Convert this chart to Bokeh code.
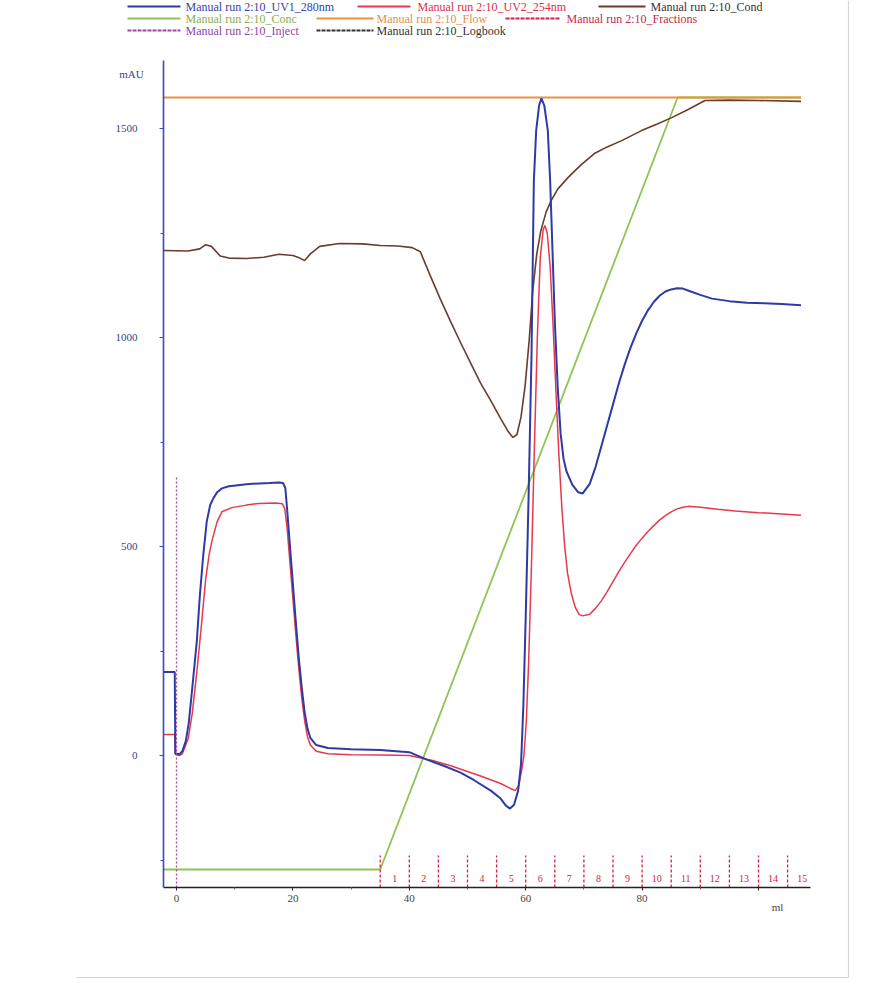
from bokeh.plotting import figure
from bokeh.models import Range1d, FixedTicker, LinearAxis
from bokeh.core.properties import value
from bokeh.embed import file_html
from bokeh.resources import INLINE

# ---------------- data ----------------
uv1_points = [(-2.2, 200), (-0.3, 200), (-0.2, 5), (0.5, 3), (1.0, 10), (1.6, 35), (2.1, 77),
              (2.7, 160), (3.5, 275), (4.0, 380), (4.6, 480), (5.2, 560), (5.8, 600), (6.4, 617),
              (7.0, 630), (7.8, 639), (9.0, 644), (10.2, 646), (12.0, 649), (14.2, 651), (16.0, 652),
              (17.6, 653), (18.3, 652), (18.7, 640), (19.0, 590), (19.5, 500), (20.0, 410), (20.5, 320),
              (21.0, 235), (21.5, 165), (22.0, 105), (22.5, 65), (23.0, 42), (24.0, 25), (26.0, 18),
              (30.0, 15), (35.0, 13), (40.0, 8), (43.0, -10), (46.0, -25), (48.8, -41), (51.0, -58),
              (54.0, -84), (55.7, -103), (56.6, -120), (57.3, -127), (58.0, -118), (58.7, -84),
              (59.2, -20), (59.6, 120), (60.0, 330), (60.5, 620), (61.0, 960), (61.4, 1375),
              (61.8, 1495), (62.3, 1555), (62.7, 1572), (63.2, 1555), (63.8, 1495), (64.2, 1375),
              (64.6, 1210), (65.0, 1040), (65.5, 880), (66.0, 770), (66.5, 710), (67.0, 680),
              (68.0, 648), (69.0, 630), (69.8, 627), (71.0, 650), (72.0, 690), (73.0, 740), (74.0, 790),
              (75.0, 840), (76.0, 890), (77.0, 935), (78.0, 975), (79.0, 1010), (80.0, 1040),
              (81.0, 1065), (82.0, 1085), (83.0, 1100), (84.0, 1110), (85.0, 1115), (86.0, 1118),
              (87.0, 1117), (88.0, 1112), (90.0, 1102), (92.0, 1093), (95.0, 1087), (98.0, 1083),
              (101.0, 1082), (104.0, 1080), (107.3, 1077)]

uv2_points = [(-2.2, 50), (-0.3, 50), (-0.2, 3), (0.5, 0), (1.0, 4), (2.0, 40), (2.7, 100),
              (3.5, 200), (4.2, 300), (5.0, 420), (5.6, 480), (6.1, 514), (7.0, 560), (7.8, 583),
              (9.5, 593), (12.0, 599), (14.2, 603), (17.0, 604), (18.2, 602), (18.6, 590), (19.0, 545),
              (19.5, 460), (20.0, 375), (20.5, 290), (21.0, 210), (21.5, 140), (22.0, 85), (22.5, 45),
              (23.0, 25), (24.0, 10), (26.0, 4), (30.0, 2), (35.0, 1), (40.0, 0), (44.0, -12),
              (47.0, -24), (52.0, -48), (55.7, -67), (57.4, -79), (58.2, -84), (58.8, -72),
              (59.3, -36), (59.7, 0), (60.1, 80), (60.5, 220), (61.0, 460), (61.5, 740), (62.0, 1000),
              (62.5, 1190), (63.0, 1258), (63.3, 1268), (63.7, 1250), (64.2, 1170), (64.7, 1030),
              (65.2, 870), (65.7, 720), (66.2, 595), (66.7, 500), (67.2, 435), (67.8, 390), (68.5, 355),
              (69.2, 337), (69.8, 334), (71.0, 338), (72.0, 352), (73.0, 370), (74.0, 392), (75.0, 416),
              (76.0, 440), (77.0, 462), (78.0, 483), (79.0, 503), (80.0, 520), (81.0, 536), (82.0, 550),
              (83.0, 563), (84.0, 574), (85.0, 583), (86.0, 590), (87.0, 594), (88.0, 596), (90.0, 594),
              (93.0, 589), (96.0, 585), (100.0, 581), (104.0, 578), (107.3, 575)]

# conductivity trace, expressed in the plotted (mAU-equivalent) scale
cond_points = [(-2.2, 1208), (2.0, 1207), (4.0, 1212), (5.0, 1222), (6.0, 1218), (7.5, 1195),
               (9.0, 1190), (12.0, 1189), (15.0, 1192), (17.6, 1199), (20.0, 1196), (21.2, 1190),
               (22.0, 1184), (23.0, 1200), (24.6, 1218), (28.0, 1225), (32.0, 1224), (35.0, 1220),
               (38.0, 1219), (40.5, 1215), (41.9, 1205), (43.6, 1148), (45.3, 1093), (47.0, 1041),
               (48.8, 988), (50.5, 940), (52.2, 892), (54.0, 849), (55.7, 806), (56.9, 777),
               (57.8, 761), (58.5, 768), (59.2, 810), (59.9, 885), (60.6, 993), (61.2, 1110),
               (61.9, 1200), (62.6, 1255), (63.5, 1300), (64.4, 1328), (65.5, 1355), (67.3, 1383),
               (69.5, 1413), (71.8, 1440), (74.0, 1456), (76.5, 1471), (79.9, 1495), (82.5, 1510),
               (85.1, 1526), (88.0, 1546), (90.8, 1567), (95.0, 1568), (100.0, 1567), (107.3, 1565)]

conc_ml = [-2.2, 35.0, 86.1, 107.3]
conc_pct = [0, 0, 100, 100]

flow_ml = [-2.2, 107.3]
flow_val = [1.0, 1.0]

fraction_starts = [35, 40, 45, 50, 55, 60, 65, 70, 75, 80, 85, 90, 95, 100, 105]
fraction_labels = ["1", "2", "3", "4", "5", "6", "7", "8", "9", "10", "11", "12", "13", "14", "15"]
fraction_width = 5

inject_ml = 0.0

x_ticks = [0, 20, 40, 60, 80, 100]
x_minor = [10, 30, 50, 70, 90]
y_ticks = [0, 500, 1000, 1500]
y_minor = [-250, 250, 750, 1250]

legend_names = ["Manual run 2:10_UV1_280nm", "Manual run 2:10_UV2_254nm", "Manual run 2:10_Cond",
                "Manual run 2:10_Conc", "Manual run 2:10_Flow", "Manual run 2:10_Fractions",
                "Manual run 2:10_Inject", "Manual run 2:10_Logbook"]

# ---------------- layout / style ----------------
C_UV1 = "#2f3aa6"
C_UV2 = "#e8384c"
C_COND = "#6b3b30"
C_CONC = "#8fc454"
C_FLOW = "#f0903c"
C_FRAC = "#d02444"
C_INJ = "#a046a8"
C_LOG = "#333333"
FONT = "Liberation Serif"

M = 0            # observed page offset of the canvas
W, H = 880, 985  # canvas size

# calibration of the page (pixel) positions
PX_ML0, PX_PER_ML = 176.0, 5.82     # x pixel of 0 ml, pixels per ml
PY_MAU0, PY_PER_MAU = 755.0, 0.418  # y pixel of 0 mAU, pixels per mAU


def ml_at(px):
    return (px - PX_ML0) / PX_PER_ML


def mau_at(py):
    return (PY_MAU0 - py) / PY_PER_MAU


AX_LEFT, AX_RIGHT, AX_TOP, AX_BOTTOM = 163, 810, 60, 887
X0, X1 = ml_at(AX_LEFT), ml_at(AX_RIGHT)
Y0, Y1 = mau_at(AX_BOTTOM), mau_at(AX_TOP)

CONC_PY0, CONC_PY100 = 869, 97
FLOW_PY1 = 97


def conc_at(py):
    return (CONC_PY0 - py) / (CONC_PY0 - CONC_PY100) * 100


def flow_at(py):
    return (AX_BOTTOM - py) / (AX_BOTTOM - FLOW_PY1)


p = figure(width=W, height=H,
           x_range=Range1d(ml_at(M), ml_at(M + W)), y_range=Range1d(mau_at(M + H), mau_at(M)),
           output_backend="svg", toolbar_location=None, x_axis_type=None, y_axis_type=None,
           min_border=0)
p.outline_line_color = None
p.grid.visible = False
p.background_fill_color = "white"
p.border_fill_color = "white"

p.extra_x_ranges = {"px": Range1d(M, M + W)}
p.extra_y_ranges = {"px": Range1d(M + H, M),
                    "conc": Range1d(conc_at(M + H), conc_at(M)),
                    "flow": Range1d(flow_at(M + H), flow_at(M))}

# axes (library axes, fixed inside the canvas)
xa = LinearAxis(fixed_location=Y0, bounds=(X0, X1),
                ticker=FixedTicker(ticks=x_ticks, minor_ticks=x_minor))
xa.major_label_overrides = {100: ""}
xa.axis_line_color = "#222222"
xa.axis_line_width = 1.6
xa.major_tick_line_color = "#222222"
xa.minor_tick_line_color = "#666666"
xa.major_tick_in = 0
xa.major_tick_out = 3
xa.minor_tick_in = 0
xa.minor_tick_out = 2
xa.major_label_standoff = 4
xa.major_label_text_font = FONT
xa.major_label_text_font_size = "11px"
xa.major_label_text_color = "#444444"
p.add_layout(xa, "below")

ya = LinearAxis(fixed_location=X0, bounds=(Y0, Y1),
                ticker=FixedTicker(ticks=y_ticks, minor_ticks=y_minor))
ya.axis_line_color = "#3a48c0"
ya.axis_line_width = 1.6
ya.major_tick_line_color = "#3a48c0"
ya.minor_tick_line_color = "#3a48c0"
ya.major_tick_in = 0
ya.major_tick_out = 4
ya.minor_tick_in = 0
ya.minor_tick_out = 3
ya.major_label_standoff = 22
ya.major_label_text_font = FONT
ya.major_label_text_font_size = "11px"
ya.major_label_text_color = "#34448c"
p.add_layout(ya, "left")

# scanned page edge
p.line([848, 848, 76], [M, 977, 977], x_range_name="px", y_range_name="px",
       line_color="#d6d6d6", line_width=1.2)

# traces
p.line(conc_ml, conc_pct, y_range_name="conc", line_color=C_CONC, line_width=1.8)
p.line(flow_ml, flow_val, y_range_name="flow", line_color=C_FLOW, line_width=1.8)
p.line([a for a, b in cond_points], [b for a, b in cond_points], line_color=C_COND, line_width=1.6)
p.line([a for a, b in uv2_points], [b for a, b in uv2_points], line_color=C_UV2, line_width=1.5)
p.line([a for a, b in uv1_points], [b for a, b in uv1_points], line_color=C_UV1, line_width=2)

# fractions
FRAC_TOP = mau_at(855)
FRAC_LABEL_Y = mau_at(878)
p.segment(x0=fraction_starts, y0=[Y0] * len(fraction_starts), x1=fraction_starts,
          y1=[FRAC_TOP] * len(fraction_starts), line_color=C_FRAC, line_width=1.3, line_dash="3 2")
p.text(x=[s + fraction_width / 2 for s in fraction_starts], y=[FRAC_LABEL_Y] * len(fraction_starts),
       text=fraction_labels, text_font=value(FONT), text_font_size="10px", text_color=C_FRAC,
       text_align="center", text_baseline="middle")

# inject mark
INJ_TOP = mau_at(475)
p.segment(x0=[inject_ml], y0=[Y0], x1=[inject_ml], y1=[INJ_TOP], line_color=C_INJ,
          line_width=1.3, line_dash="2 2")

# axis unit labels (page pixel positions)
p.text(x=[131], y=[73], text=["mAU"], x_range_name="px", y_range_name="px",
       text_font=value(FONT), text_font_size="11px", text_color="#34448c",
       text_align="center", text_baseline="middle")
p.text(x=[777], y=[906], text=["ml"], x_range_name="px", y_range_name="px",
       text_font=value(FONT), text_font_size="11px", text_color="#444444",
       text_align="center", text_baseline="middle")

# ---------------- legend (page pixel positions) ----------------
legend_colors = [C_UV1, C_UV2, C_COND, C_CONC, C_FLOW, C_FRAC, C_INJ, C_LOG]
legend_text_colors = ["#3344aa", "#d83048", "#3a3030", "#8aae52", "#e0904a", "#c8284a", "#8a48a8", "#333333"]
legend_dashes = ["solid", "solid", "solid", "solid", "solid", "4 1", "4 1", "4 1"]
legend_rows = [6, 6, 6, 18, 18, 18, 30, 30]
legend_line_x = [(127, 180), (357, 410), (598, 645), (127, 180), (316, 373), (505, 560), (127, 180), (316, 373)]
legend_text_x = [185, 417, 650, 185, 376, 566, 185, 376]

for name, c, tc, d, ry, (lx0, lx1), tx in zip(legend_names, legend_colors, legend_text_colors,
                                                legend_dashes, legend_rows, legend_line_x, legend_text_x):
    p.segment(x0=[lx0], y0=[ry], x1=[lx1], y1=[ry], x_range_name="px", y_range_name="px",
              line_color=c, line_width=1.8, line_dash=d)
    p.text(x=[tx], y=[ry], text=[name], x_range_name="px", y_range_name="px",
           text_font=value(FONT), text_font_size="12px",
           text_color=tc, text_align="left", text_baseline="middle")

open("out.html", "w").write(file_html(p, INLINE))
